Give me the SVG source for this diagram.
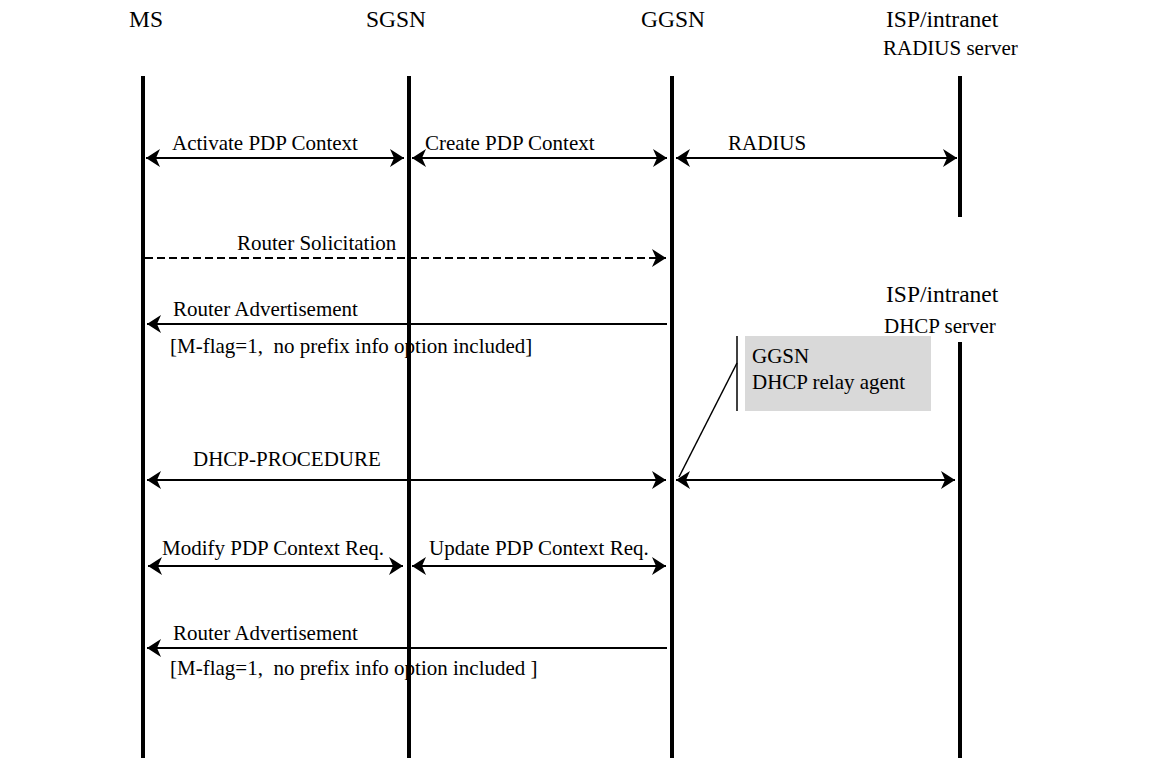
<svg xmlns="http://www.w3.org/2000/svg" width="1168" height="769" viewBox="0 0 1168 769">
<style>
text{font-family:"Liberation Serif","Times New Roman",serif;fill:#000;white-space:pre}
.hd{font-size:23.5px}
.lb{font-size:21px}
.life{stroke:#000;stroke-width:4;fill:none}
.msg{stroke:#000;stroke-width:2;fill:none}
.dash{stroke-dasharray:8 4}
.both{marker-start:url(#ah);marker-end:url(#ah)}
.end{marker-end:url(#ah)}
</style>
<defs>
<marker id="ah" viewBox="0 0 14 18" refX="14" refY="9" markerWidth="14" markerHeight="18" markerUnits="userSpaceOnUse" orient="auto-start-reverse">
<path d="M0,0 L14,9 L0,18 L4,9 Z" fill="#000"/>
</marker>
</defs>
<rect width="1168" height="769" fill="#fff"/>
<g id="ms">
<text class="hd" x="129" y="27">MS</text>
<line class="life" x1="143" y1="76" x2="143" y2="758"/>
</g>
<g id="sgsn">
<text class="hd" x="366" y="27">SGSN</text>
<line class="life" x1="409" y1="76" x2="409" y2="758"/>
</g>
<g id="ggsn">
<text class="hd" x="641" y="27">GGSN</text>
<line class="life" x1="672" y1="76" x2="672" y2="758"/>
</g>
<g id="radius">
<text class="hd" x="886" y="27">ISP/intranet</text>
<text class="lb" x="883" y="55">RADIUS server</text>
<line class="life" x1="960" y1="76" x2="960" y2="217"/>
</g>
<g id="dhcp">
<text class="hd" x="886" y="302">ISP/intranet</text>
<text class="lb" x="884" y="333">DHCP server</text>
<line class="life" x1="960" y1="342" x2="960" y2="758"/>
</g>
<g id="relay">
<rect x="745" y="336" width="186" height="75" fill="#d9d9d9"/>
<line x1="737" y1="336" x2="737" y2="411" stroke="#000" stroke-width="1.5"/>
<text class="lb" x="752" y="363">GGSN</text>
<text class="lb" x="752" y="389">DHCP relay agent</text>
</g>
<g id="connectors">
<line class="msg both" x1="146" y1="158" x2="404" y2="158"/>
<text class="lb" x="172" y="150">Activate PDP Context</text>
<line class="msg both" x1="412" y1="158" x2="667" y2="158"/>
<text class="lb" x="425" y="150">Create PDP Context</text>
<line class="msg both" x1="676" y1="158" x2="957" y2="158"/>
<text class="lb" x="728" y="150">RADIUS</text>
<line class="msg dash end" x1="145" y1="258" x2="666" y2="258"/>
<text class="lb" x="237" y="250">Router Solicitation</text>
<line class="msg end" x1="667" y1="324" x2="147" y2="324"/>
<text class="lb" x="173" y="316">Router Advertisement</text>
<text class="lb" x="170" y="353">[M-flag=1,  no prefix info option included]</text>
<line class="msg both" x1="147" y1="480" x2="666" y2="480"/>
<text class="lb" x="193" y="466">DHCP-PROCEDURE</text>
<line class="msg both" x1="676" y1="480" x2="955" y2="480"/>
<line x1="737" y1="363" x2="679" y2="477" stroke="#000" stroke-width="1.5"/>
<line class="msg both" x1="148" y1="566" x2="403" y2="566"/>
<text class="lb" x="162" y="555">Modify PDP Context Req.</text>
<line class="msg both" x1="412" y1="566" x2="666" y2="566"/>
<text class="lb" x="429" y="555">Update PDP Context Req.</text>
<line class="msg end" x1="667" y1="648" x2="147" y2="648"/>
<text class="lb" x="173" y="640">Router Advertisement</text>
<text class="lb" x="170" y="675">[M-flag=1,  no prefix info option included ]</text>
</g>
</svg>
